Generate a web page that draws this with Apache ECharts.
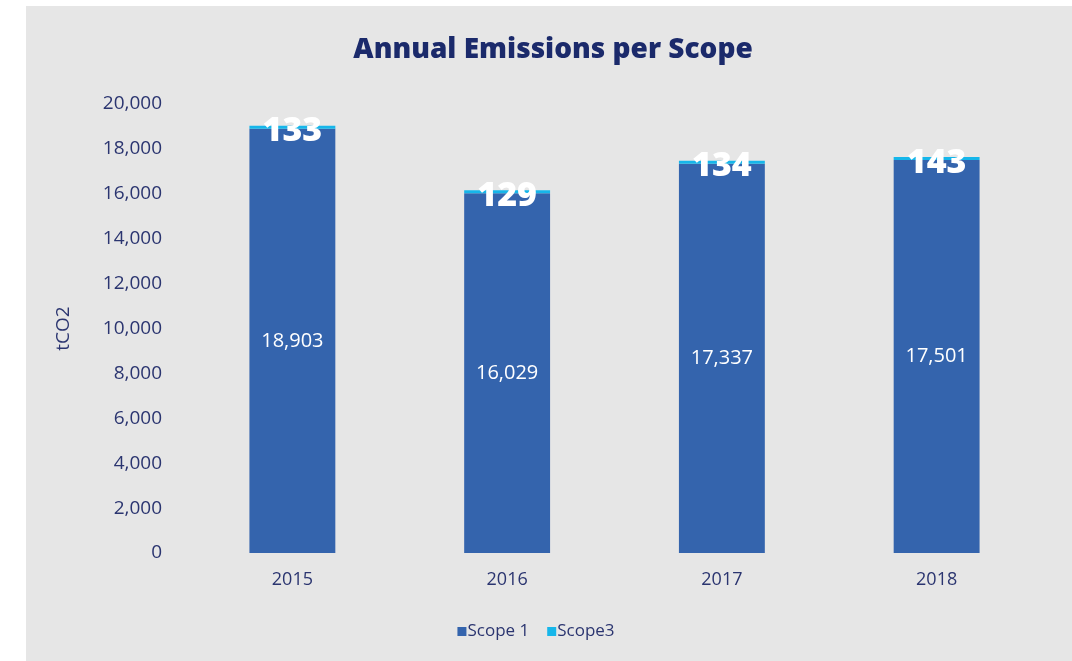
<!DOCTYPE html>
<html>
<head>
<meta charset="utf-8">
<script src="https://cdn.jsdelivr.net/npm/echarts@6/dist/echarts.min.js"></script>
<style>
  html, body { margin: 0; padding: 0; background: #fff; }
  #main { width: 1072px; height: 661px; }
</style>
</head>
<body>
<div id="main"></div>
<script>
// data
var years = ['2015', '2016', '2017', '2018'];
var scope1 = [18903, 16029, 17337, 17501];
var scope3 = [133, 129, 134, 143];

var navy = '#2b3570';
var myChart = echarts.init(document.getElementById('main'));

var option = {
    backgroundColor: '#fff',
    graphic: [{
        type: 'rect',
        z: -10,
        shape: { x: 26, y: 6, width: 1046, height: 655 },
        style: { fill: '#e6e6e6' }
    }],
    title: {
        text: 'Annual Emissions per Scope',
        left: 548,
        textAlign: 'center',
        top: 31,
        textStyle: {
            fontFamily: 'Open Sans',
            fontWeight: 800,
            fontSize: 28,
            color: '#1b2a6b'
        }
    },
    legend: {
        bottom: 16,
        left: 'center',
        itemWidth: 9,
        itemHeight: 9,
        itemGap: 18,
        icon: 'rect',
        textStyle: { fontFamily: 'Open Sans', fontSize: 17, color: navy, padding: [0, 0, 0, -4] },
        data: ['Scope 1', 'Scope3']
    },
    grid: {
        left: 185,
        right: 28,
        top: 104,
        bottom: 108
    },
    xAxis: {
        type: 'category',
        data: years,
        axisLine: { show: false },
        axisTick: { show: false },
        axisLabel: { fontFamily: 'Open Sans', fontSize: 18, color: navy, margin: 18 }
    },
    yAxis: {
        type: 'value',
        min: 0,
        max: 20000,
        interval: 2000,
        name: 'tCO2',
        nameLocation: 'middle',
        nameGap: 112,
        nameTextStyle: { fontFamily: 'Open Sans', fontSize: 19, color: navy },
        splitLine: { show: false },
        axisLabel: {
            fontFamily: 'Open Sans',
            fontSize: 19,
            color: navy,
            margin: 23,
            formatter: function (v) { return v.toLocaleString('en-US'); }
        }
    },
    series: [{
        name: 'Scope 1',
        type: 'bar',
        stack: 'total',
        barWidth: '40%',
        itemStyle: { color: '#3464ad' },
        label: {
            show: true,
            position: 'inside',
            fontFamily: 'Open Sans',
            fontSize: 20,
            color: '#fff',
            formatter: function (p) { return p.value.toLocaleString('en-US'); }
        },
        data: scope1
    }, {
        name: 'Scope3',
        type: 'bar',
        stack: 'total',
        itemStyle: { color: '#16b6ea' },
        label: {
            show: true,
            position: 'top',
            distance: -23,
            fontFamily: 'Open Sans',
            fontWeight: 800,
            fontSize: 34,
            color: '#fff'
        },
        data: scope3
    }]
};
myChart.setOption(option);
</script>
</body>
</html>
